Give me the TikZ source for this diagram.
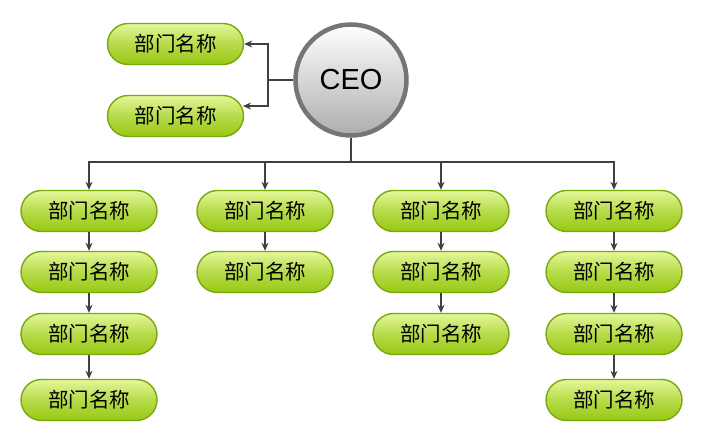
\documentclass[tikz,border=0pt]{standalone}
\usepackage{fontspec}
\setmainfont{Liberation Sans}
\newfontfamily\cjk{Noto Sans CJK SC}
\usetikzlibrary{arrows.meta}
\definecolor{boxtop}{HTML}{E4F79A}
\definecolor{boxbot}{HTML}{98C814}
\definecolor{boxline}{HTML}{7CA80F}
\definecolor{ringgray}{HTML}{757575}
\definecolor{linegray}{HTML}{404040}
\tikzset{
  dept/.style={draw=boxline, line width=1.4pt, rounded corners=20.5pt,
    minimum width=136pt, minimum height=41pt, inner sep=0pt,
    top color=boxtop, bottom color=boxbot, middle color=boxbot!60!boxtop,
    font=\cjk\fontsize{20.5}{21}\selectfont, text=black},
  ceostyle/.style={circle, draw=ringgray, line width=4.5pt, minimum size=111pt,
    top color=white, bottom color=black!32, inner sep=0pt,
    font=\fontsize{29}{30}\selectfont},
  conn/.style={draw=linegray, line width=1.2pt},
  arr/.style={conn, -{Stealth[length=8pt,width=7pt,fill=black]}}
}
\begin{document}
\begin{tikzpicture}[x=1pt,y=-1pt]
\useasboundingbox (0,0) rectangle (703,443);
\fill[white] (0,0) rectangle (703,443);
\node[ceostyle] (ceo) at (351,80) {CEO};
\node[dept] (t1) at (175.5,44) {部门名称};
\node[dept] (t2) at (175.5,116) {部门名称};
\coordinate (tj) at (268,80);
\coordinate (t2a) at (243,106);
\coordinate (bus) at (351,162);
\draw[conn] (ceo.west) -- (tj);
\draw[arr] (tj) |- (t1.east);
\draw[arr] (tj) |- (t2a);
\draw[conn] (ceo.south) -- (bus);
% columns
\foreach \c/\x in {1/89,2/265,3/441,4/614}{
  \node[dept] (c\c r1) at (\x,211) {部门名称};
  \node[dept] (c\c r2) at (\x,272) {部门名称};
}
\node[dept] (c1r3) at (89,334) {部门名称};
\node[dept] (c1r4) at (89,400) {部门名称};
\node[dept] (c3r3) at (441,334) {部门名称};
\node[dept] (c4r3) at (614,334) {部门名称};
\node[dept] (c4r4) at (614,400) {部门名称};
\draw[arr] (bus) -| (c1r1.north);
\draw[arr] (bus) -| (c2r1.north);
\draw[arr] (bus) -| (c3r1.north);
\draw[arr] (bus) -| (c4r1.north);
\foreach \c in {1,2,3,4}{\draw[arr] (c\c r1.south) -- (c\c r2.north);}
\draw[arr] (c1r2.south) -- (c1r3.north);
\draw[arr] (c1r3.south) -- (c1r4.north);
\draw[arr] (c3r2.south) -- (c3r3.north);
\draw[arr] (c4r2.south) -- (c4r3.north);
\draw[arr] (c4r3.south) -- (c4r4.north);
\end{tikzpicture}
\end{document}
